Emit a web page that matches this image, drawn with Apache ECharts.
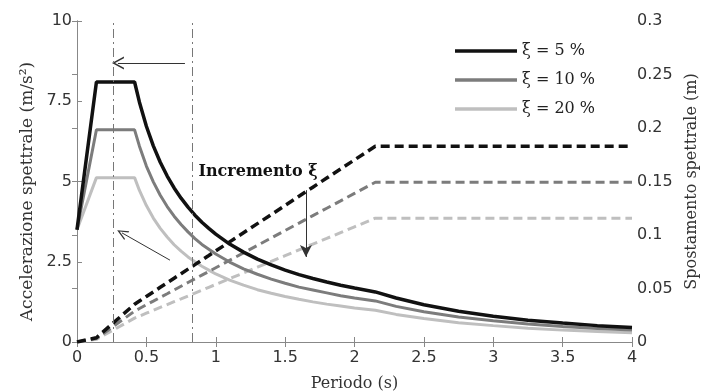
<!DOCTYPE html>
<html><head><meta charset="utf-8">
<script src="https://cdn.jsdelivr.net/npm/echarts@6/dist/echarts.min.js"></script>
<style>html,body{margin:0;padding:0;background:#fff}#c{width:701px;height:392px}</style>
</head><body><div id="c"></div>
<script>
// Period values (s)
const periods = [0, 0.14, 0.415, 0.45, 0.5, 0.55, 0.6, 0.65, 0.7, 0.75, 0.8, 0.85, 0.9, 0.95, 1.0, 1.1, 1.2, 1.3, 1.4, 1.5, 1.6, 1.7, 1.8, 1.9, 2.0, 2.15, 2.3, 2.5, 2.75, 3.0, 3.25, 3.5, 3.75, 4.0];
// Spectral acceleration (m/s^2)
const accel5  = [3.5, 8.1, 8.1, 7.47, 6.72, 6.11, 5.60, 5.17, 4.80, 4.48, 4.20, 3.95, 3.73, 3.54, 3.36, 3.05, 2.80, 2.58, 2.40, 2.24, 2.10, 1.98, 1.87, 1.77, 1.68, 1.56, 1.37, 1.16, 0.96, 0.80, 0.68, 0.59, 0.51, 0.45];
const accel10 = [3.5, 6.61, 6.61, 6.10, 5.48, 4.99, 4.57, 4.22, 3.92, 3.66, 3.43, 3.22, 3.04, 2.89, 2.74, 2.49, 2.28, 2.11, 1.96, 1.83, 1.71, 1.62, 1.53, 1.44, 1.37, 1.28, 1.11, 0.94, 0.78, 0.66, 0.56, 0.48, 0.42, 0.37];
const accel20 = [3.5, 5.12, 5.12, 4.72, 4.25, 3.86, 3.54, 3.27, 3.03, 2.83, 2.65, 2.50, 2.36, 2.24, 2.12, 1.93, 1.77, 1.63, 1.52, 1.42, 1.33, 1.25, 1.18, 1.12, 1.06, 0.99, 0.86, 0.73, 0.60, 0.51, 0.43, 0.37, 0.33, 0.29];
// Spectral displacement (m)
const disp5  = [0, 0.0040, 0.0353, 0.0383, 0.0426, 0.0468, 0.0511, 0.0553, 0.0596, 0.0638, 0.0681, 0.0723, 0.0766, 0.0808, 0.0851, 0.0936, 0.1021, 0.1106, 0.1191, 0.1277, 0.1362, 0.1447, 0.1532, 0.1617, 0.1702, 0.183, 0.183, 0.183, 0.183, 0.183, 0.183, 0.183, 0.183, 0.183];
const disp10 = [0, 0.0033, 0.0288, 0.0313, 0.0348, 0.0382, 0.0417, 0.0451, 0.0486, 0.0521, 0.0556, 0.0590, 0.0625, 0.0659, 0.0694, 0.0764, 0.0833, 0.0903, 0.0972, 0.1042, 0.1111, 0.1181, 0.1250, 0.1319, 0.1389, 0.1493, 0.1493, 0.1493, 0.1493, 0.1493, 0.1493, 0.1493, 0.1493, 0.1493];
const disp20 = [0, 0.0025, 0.0223, 0.0242, 0.0269, 0.0296, 0.0323, 0.0350, 0.0377, 0.0403, 0.0430, 0.0457, 0.0484, 0.0511, 0.0538, 0.0592, 0.0645, 0.0699, 0.0753, 0.0807, 0.0861, 0.0915, 0.0968, 0.1022, 0.1076, 0.1157, 0.1157, 0.1157, 0.1157, 0.1157, 0.1157, 0.1157, 0.1157, 0.1157];
const seriesNames = ['ξ = 5 %', 'ξ = 10 %', 'ξ = 20 %'];
const refPeriods = [0.26, 0.83];
const annotationText = 'Incremento ξ';

const chart = echarts.init(document.getElementById('c'), null, {renderer: 'canvas'});
const pairs = ys => periods.map((t, i) => [t, ys[i]]);
const SERIF = 'DejaVu Serif';
const SANS = 'DejaVu Sans';
const colors = ['#111111', '#7c7c7c', '#bfbfbf'];
const arrowStyle = {color: '#333', width: 1, type: 'solid'};
const chevron = 'path://M0,10 L5,0 L10,10 L8.6,10 L5,2.6 L1.4,10 Z';

function fmt(v) { return String(Math.round(v * 1000) / 1000); }

const option = {
  animation: false,
  backgroundColor: '#fff',
  grid: {left: 77, right: 69, top: 21, bottom: 50, outerBoundsMode: 'none', containLabel: false},
  legend: {
    data: seriesNames,
    orient: 'vertical', left: 450, top: 38,
    icon: 'rect', itemWidth: 62, itemHeight: 3.5, itemGap: 13,
    textStyle: {fontFamily: SERIF, fontSize: 16, color: '#222'}
  },
  xAxis: [{
    type: 'value', min: 0, max: 4, interval: 0.5, position: 'bottom',
    name: 'Periodo (s)', nameLocation: 'middle', nameGap: 34,
    nameTextStyle: {fontFamily: SERIF, fontSize: 16, color: '#333'},
    axisLine: {show: true, lineStyle: {color: '#888'}},
    axisTick: {inside: true, length: 5, lineStyle: {color: '#888'}},
    axisLabel: {fontFamily: SANS, fontSize: 16, color: '#333', margin: 8, formatter: fmt},
    splitLine: {show: false}
  }, {
    type: 'value', min: 0, max: 4, interval: 0.5, position: 'top',
    axisLine: {show: true, lineStyle: {color: '#888'}},
    axisTick: {inside: true, length: 5, lineStyle: {color: '#888'}},
    axisLabel: {show: false}, splitLine: {show: false}
  }],
  yAxis: [{
    type: 'value', min: 0, max: 10, interval: 2.5, position: 'left',
    name: 'Accelerazione spettrale (m/s²)', nameLocation: 'middle', nameGap: 41,
    nameTextStyle: {fontFamily: SERIF, fontSize: 17, color: '#333', padding: [0, 20, 0, 0]},
    axisLine: {show: true, lineStyle: {color: '#888'}},
    axisTick: {show: true, inside: true, length: 5, lineStyle: {color: '#888'}},
    axisLabel: {fontFamily: SANS, fontSize: 16, color: '#333', margin: 5, formatter: fmt},
    splitLine: {show: false}
  }, {
    type: 'value', min: 0, max: 0.3, interval: 0.05, position: 'right',
    name: 'Spostamento spettrale (m)', nameLocation: 'middle', nameGap: 51,
    nameTextStyle: {fontFamily: SERIF, fontSize: 16, color: '#333'},
    axisLine: {show: true, lineStyle: {color: '#888'}},
    axisTick: {show: true, inside: true, length: 5, lineStyle: {color: '#888'}},
    axisLabel: {fontFamily: SANS, fontSize: 16, color: '#333', margin: 5, formatter: fmt},
    splitLine: {show: false}
  }],
  series: [
    {
      name: seriesNames[2], type: 'line', xAxisIndex: 0, yAxisIndex: 0, data: pairs(accel20),
      symbol: 'none', lineStyle: {color: colors[2], width: 3}, itemStyle: {color: colors[2]}, z: 2,
      markLine: {
        silent: true, symbol: ['none', chevron], symbolSize: [10, 11], label: {show: false},
        lineStyle: arrowStyle,
        data: [
          [{coord: [0.778, 8.69]}, {coord: [0.295, 8.69], symbolSize: [13, 12]}],
          [{coord: [0.67, 2.55]}, {coord: [0.324, 3.40]}],
          [{coord: [1.65, 4.73]}, {coord: [1.65, 2.65], symbol: 'arrow', symbolSize: [9, 12]}]
        ]
      }
    },
    {
      name: seriesNames[1], type: 'line', xAxisIndex: 0, yAxisIndex: 0, data: pairs(accel10),
      symbol: 'none', lineStyle: {color: colors[1], width: 3}, itemStyle: {color: colors[1]}, z: 3
    },
    {
      name: seriesNames[0], type: 'line', xAxisIndex: 0, yAxisIndex: 0, data: pairs(accel5),
      symbol: 'none', lineStyle: {color: colors[0], width: 3.5}, itemStyle: {color: colors[0]}, z: 4,
      markLine: {
        silent: true, symbol: 'none', label: {show: false},
        lineStyle: {color: '#777', width: 1, type: [9, 4, 2, 4]},
        data: refPeriods.map(v => ({xAxis: v}))
      },
      markPoint: {
        silent: true, symbol: 'rect', symbolSize: 0,
        label: {show: true, position: 'inside', formatter: annotationText, fontFamily: SERIF, fontWeight: 'bold', fontSize: 16, color: '#111'},
        data: [{coord: [1.305, 5.3]}]
      }
    },
    {
      name: 'd20', type: 'line', xAxisIndex: 0, yAxisIndex: 1, data: pairs(disp20),
      symbol: 'none', lineStyle: {color: colors[2], width: 3, type: [9, 5]}, z: 2
    },
    {
      name: 'd10', type: 'line', xAxisIndex: 0, yAxisIndex: 1, data: pairs(disp10),
      symbol: 'none', lineStyle: {color: colors[1], width: 3, type: [9, 5]}, z: 3
    },
    {
      name: 'd5', type: 'line', xAxisIndex: 0, yAxisIndex: 1, data: pairs(disp5),
      symbol: 'none', lineStyle: {color: colors[0], width: 3.5, type: [9, 5]}, z: 4
    }
  ]
};
chart.setOption(option);
</script>
</body></html>
